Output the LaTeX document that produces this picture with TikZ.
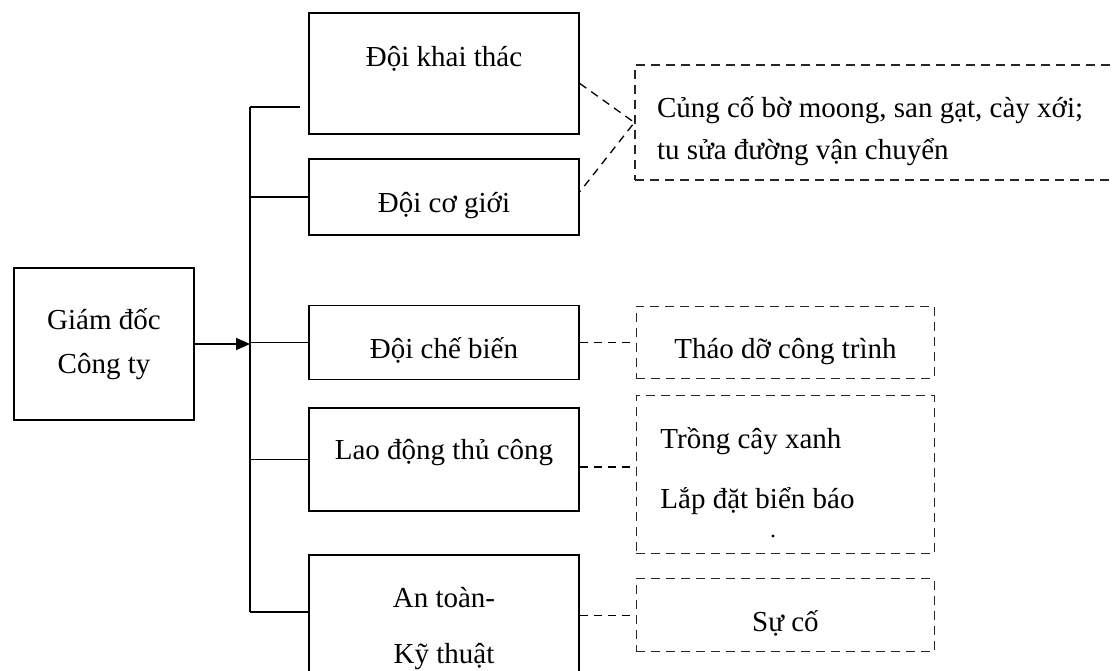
\documentclass[tikz,border=0pt]{standalone}
\usepackage{fontspec}
\setmainfont{Liberation Serif}
\usetikzlibrary{arrows.meta,positioning}

\begin{document}
\begin{tikzpicture}[x=1pt,y=-1pt,>={Triangle[length=14pt,width=12pt]},
  unit/.style={rectangle,draw,line width=1.7pt,minimum width=270pt,font=\fontsize{29}{42}\selectfont,align=center},
  task/.style={rectangle,draw=black!85,line width=1.2pt,dash pattern=on 9pt off 6pt,minimum width=298pt,font=\fontsize{29}{42}\selectfont},
  low/.style={text height=32pt,text depth=0pt}]
  \tikzset{link/.style={line width=1.7pt},dlink/.style={line width=1.3pt,dash pattern=on 8pt off 6pt}}
  \useasboundingbox (0,0) rectangle (1114,671);
  \node[unit,minimum width=180pt,minimum height=152pt] (gd) at (104,344) {Giám đốc\\[2pt]Công ty};
  \node[unit,minimum height=121pt] (khai) at (444,73.5) {\smash{\raisebox{7pt}{Đội khai thác}}};
  \node[unit,low,minimum height=76pt] (cogioi) [below=23pt of khai] {Đội cơ giới};
  \node[unit,low,minimum height=74pt] (chebien) [below=69pt of cogioi] {Đội chế biến};
  \node[unit,minimum height=103pt] (laodong) [below=27pt of chebien] {\smash{Lao động thủ công}};
  \node[unit,minimum height=148pt] (antoan) [below=42pt of laodong] {An toàn-\\[14pt]Kỹ thuật};

  \node[task,minimum width=495pt,minimum height=115pt,text width=451pt,inner xsep=22pt,align=flush left] (cungco) at (882.5,122.5)
    {\rule{0pt}{41pt}Củng cố bờ moong, san gạt, cày xới;\\tu sửa đường vận chuyển\rule[-8pt]{0pt}{0pt}};
  \node[task,low,minimum height=72pt] (thaodo) [right=56pt of chebien] {Tháo dỡ công trình};
  \node[task,minimum height=158pt,text width=250pt,inner xsep=24pt,align=flush left] (trong) [below=16pt of thaodo]
    {\rule{0pt}{34pt}Trồng cây xanh\\[18pt]Lắp đặt biển báo\rule[-26pt]{0pt}{0pt}};
  \node[task,low,minimum height=73pt] (suco) [below=24pt of trong] {Sự cố};

  \coordinate (bustop) at (250,107);
  \coordinate (busbot) at (250,612);
  \draw[link] (bustop) -- (busbot);
  \draw[->,link] (gd) -- (gd.east -| bustop);
  \draw[link] (bustop) -- ([xshift=-8pt]bustop -| khai.west);
  \draw[link] (bustop |- cogioi) -- (cogioi);
  \draw[link] (bustop |- chebien) -- (chebien);
  \draw[link] (bustop |- laodong) -- (laodong);
  \draw[link] (busbot) -- (busbot -| antoan.west);

  \draw[dlink] ([yshift=-10pt]khai.east) -- (cungco.west) -- ([yshift=5pt]cogioi.east);
  \draw[dlink] (chebien) -- (thaodo);
  \draw[dlink,line width=2pt] ([yshift=-7pt]laodong.east) -- ([yshift=-7pt]laodong.east -| trong.west);
  \draw[dlink] (suco.west -| antoan.east) -- (suco.west);
  \fill (773,536) circle (1.6pt);
\end{tikzpicture}
\end{document}
